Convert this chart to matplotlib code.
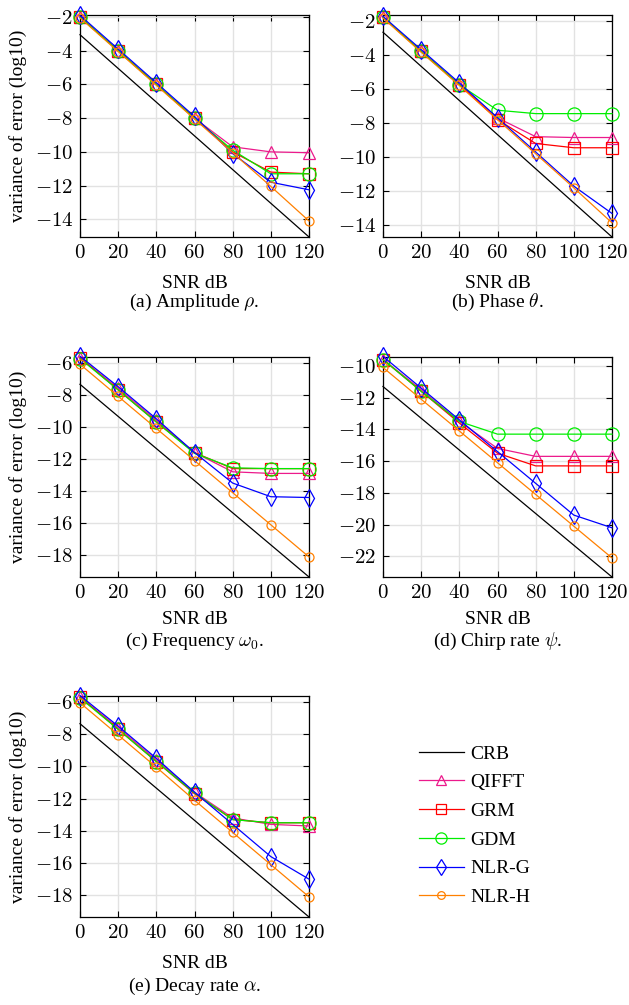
import numpy as np
import matplotlib
matplotlib.use("Agg")
import matplotlib.pyplot as plt
from matplotlib.ticker import FuncFormatter

plt.rcParams['font.family'] = ['Liberation Serif', 'DejaVu Serif']
plt.rcParams['mathtext.fontset'] = 'cm'
plt.rcParams['font.size'] = 14

snr = [0, 20, 40, 60, 80, 100, 120]
methods = ['CRB', 'QIFFT', 'GRM', 'GDM', 'NLR-G', 'NLR-H']

# (a) amplitude
amp_crb = [-3.05, -5.05, -7.05, -9.05, -11.05, -13.05, -15.05]
amp_qifft = [-2.0, -4.0, -6.0, -8.0, -9.7, -10.0, -10.05]
amp_grm = [-2.0, -4.0, -6.0, -8.0, -10.0, -11.2, -11.3]
amp_gdm = [-2.0, -4.0, -6.0, -8.0, -9.9, -11.3, -11.3]
amp_nlrg = [-1.9, -3.9, -5.9, -7.9, -10.1, -11.8, -12.25]
amp_nlrh = [-2.05, -4.05, -6.05, -8.05, -10.05, -12.05, -14.1]

# (b) phase
ph_crb = [-2.68, -4.68, -6.68, -8.68, -10.68, -12.68, -14.68]
ph_qifft = [-1.8, -3.8, -5.75, -7.7, -8.8, -8.85, -8.85]
ph_grm = [-1.8, -3.8, -5.75, -7.8, -9.2, -9.45, -9.45]
ph_gdm = [-1.8, -3.8, -5.75, -7.25, -7.45, -7.45, -7.45]
ph_nlrg = [-1.75, -3.7, -5.65, -7.7, -9.7, -11.7, -13.3]
ph_nlrh = [-1.85, -3.85, -5.8, -7.8, -9.8, -11.8, -13.85]

# (c) frequency
fr_crb = [-7.35, -9.35, -11.35, -13.35, -15.35, -17.35, -19.35]
fr_qifft = [-5.7, -7.6, -9.6, -11.6, -12.8, -12.9, -12.9]
fr_grm = [-5.7, -7.7, -9.7, -11.6, -12.6, -12.6, -12.6]
fr_gdm = [-5.75, -7.7, -9.7, -11.65, -12.55, -12.6, -12.6]
fr_nlrg = [-5.6, -7.5, -9.5, -11.6, -13.5, -14.35, -14.4]
fr_nlrh = [-6.1, -8.1, -10.1, -12.1, -14.1, -16.1, -18.1]

# (d) chirp rate
ch_crb = [-11.3, -13.3, -15.3, -17.3, -19.3, -21.3, -23.3]
ch_qifft = [-9.6, -11.5, -13.5, -15.2, -15.7, -15.7, -15.7]
ch_grm = [-9.6, -11.6, -13.6, -15.5, -16.3, -16.3, -16.3]
ch_gdm = [-9.6, -11.6, -13.5, -14.3, -14.3, -14.3, -14.3]
ch_nlrg = [-9.4, -11.4, -13.4, -15.4, -17.4, -19.4, -20.2]
ch_nlrh = [-10.1, -12.1, -14.1, -16.1, -18.1, -20.1, -22.1]

# (e) decay rate
dc_crb = [-7.35, -9.35, -11.35, -13.35, -15.35, -17.35, -19.35]
dc_qifft = [-5.7, -7.6, -9.6, -11.6, -13.2, -13.6, -13.7]
dc_grm = [-5.7, -7.7, -9.7, -11.7, -13.3, -13.5, -13.5]
dc_gdm = [-5.75, -7.7, -9.7, -11.65, -13.3, -13.5, -13.5]
dc_nlrg = [-5.6, -7.5, -9.5, -11.6, -13.6, -15.6, -17.0]
dc_nlrh = [-6.05, -8.05, -10.05, -12.1, -14.1, -16.1, -18.1]

captions = [r'(a) Amplitude $\rho$.', r'(b) Phase $\theta$.',
            r'(c) Frequency $\omega_0$.', r'(d) Chirp rate $\psi$.',
            r'(e) Decay rate $\alpha$.']
ylims = [(-15.05, -1.88), (-14.68, -1.67), (-19.35, -5.65),
         (-23.3, -9.44), (-19.35, -5.63)]
panels = [
    [amp_crb, amp_qifft, amp_grm, amp_gdm, amp_nlrg, amp_nlrh],
    [ph_crb, ph_qifft, ph_grm, ph_gdm, ph_nlrg, ph_nlrh],
    [fr_crb, fr_qifft, fr_grm, fr_gdm, fr_nlrg, fr_nlrh],
    [ch_crb, ch_qifft, ch_grm, ch_gdm, ch_nlrg, ch_nlrh],
    [dc_crb, dc_qifft, dc_grm, dc_gdm, dc_nlrg, dc_nlrh],
]

styles = [
    dict(color='black', marker=None, ms=0),
    dict(color='#ec1a8c', marker='^', ms=8),
    dict(color='#ff0000', marker='s', ms=9),
    dict(color='#00ee00', marker='o', ms=9.5),
    dict(color='#0000ff', marker='d', ms=9),
    dict(color='#ff8000', marker='o', ms=6.5),
]

W, H = 629, 1005
# axes boxes in pixels: left, right, top, bottom
boxes = [(80, 309, 15, 237), (383, 612, 15, 237),
         (80, 309, 357, 577), (383, 612, 357, 577),
         (80, 309, 696, 917)]
xlabel_y = [283, 283, 620, 620, 963]
caption_y = [302, 302, 641, 641, 986]

cm_fmt = FuncFormatter(lambda v, p: r'$%d$' % round(v))

fig = plt.figure(figsize=(W / 100, H / 100), dpi=100)

handles = []
for i, (l, r, t, b) in enumerate(boxes):
    ax = fig.add_axes([l / W, 1 - b / H, (r - l) / W, (b - t) / H])
    for name, ys, st in zip(methods, panels[i], styles):
        line, = ax.plot(snr, ys, color=st['color'], lw=0.9,
                        marker=st['marker'], markersize=st['ms'],
                        markerfacecolor='none', markeredgewidth=0.9,
                        label=name, clip_on=False, zorder=3)
        if i == 4:
            handles.append(line)
    ax.set_xlim(0, 120)
    ax.set_ylim(*ylims[i])
    ax.set_xticks(snr)
    ax.set_yticks(np.arange(np.ceil(ylims[i][0] / 2) * 2, ylims[i][1], 2))
    ax.xaxis.set_major_formatter(cm_fmt)
    ax.yaxis.set_major_formatter(cm_fmt)
    ax.grid(True, color='#e2e2e2', lw=1.0)
    ax.set_axisbelow(True)
    ax.tick_params(direction='in', top=True, right=True, length=4,
                   labelsize=15, pad=5)
    for s in ax.spines.values():
        s.set_linewidth(0.9)
    cx = (l + r) / 2 / W
    fig.text(cx, 1 - xlabel_y[i] / H, 'SNR dB', ha='center', va='center',
             fontsize=14)
    fig.text(cx, 1 - caption_y[i] / H, captions[i], ha='center',
             va='center', fontsize=14)
    if l < 200:
        fig.text(18 / W, 1 - (t + b) / 2 / H, 'variance of error (log10)',
                 rotation=90, ha='center', va='center', fontsize=14)

fig.legend(handles, methods, loc='upper left',
           bbox_to_anchor=(419 / W, 1 - 745 / H), frameon=False,
           borderpad=0, borderaxespad=0, handlelength=2.3,
           handletextpad=0.35, labelspacing=0.57, fontsize=14,
           markerscale=0.85)

fig.savefig('out.png', dpi=100)
